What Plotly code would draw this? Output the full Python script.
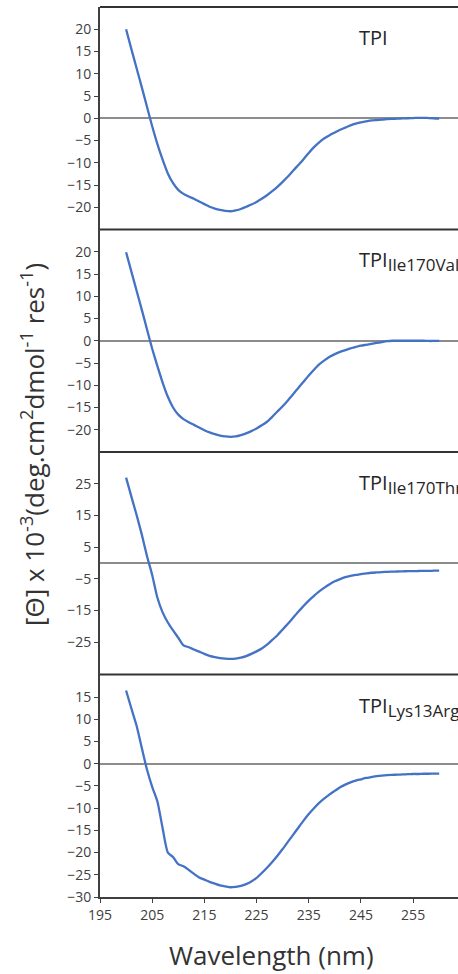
import plotly.graph_objects as go

wavelength = list(range(200, 261))

tpi_wt = [20.0, 15.6, 11.3, 7.0, 2.6, -1.8, -5.8, -9.3, -12.4, -14.6,
          -16.1, -17.0, -17.6, -18.1, -18.7, -19.3, -19.9, -20.3, -20.6, -20.8,
          -20.9, -20.7, -20.4, -19.9, -19.4, -18.8, -18.1, -17.3, -16.4, -15.4,
          -14.3, -13.1, -11.8, -10.5, -9.2, -7.8, -6.5, -5.4, -4.5, -3.8,
          -3.2, -2.6, -2.1, -1.6, -1.2, -0.9, -0.7, -0.5, -0.4, -0.3,
          -0.2, -0.15, -0.1, -0.05, 0.0, 0.05, 0.1, 0.1, 0.05, 0.0, -0.1]

tpi_ile170val = [19.9, 15.6, 11.3, 7.0, 2.6, -1.8, -5.7, -9.4, -12.6, -15.0,
                 -16.6, -17.6, -18.3, -18.9, -19.5, -20.1, -20.6, -21.0, -21.3, -21.5,
                 -21.6, -21.5, -21.2, -20.8, -20.3, -19.7, -19.0, -18.2, -17.1, -15.9,
                 -14.7, -13.4, -12.0, -10.6, -9.2, -7.8, -6.5, -5.3, -4.4, -3.6,
                 -3.0, -2.5, -2.1, -1.7, -1.4, -1.1, -0.9, -0.7, -0.5, -0.3,
                 -0.1, 0.0, 0.0, 0.0, 0.0, 0.0, 0.0, 0.0, -0.05, -0.05, -0.05]

tpi_ile170thr = [26.9, 21.0, 15.2, 9.0, 2.2, -3.8, -11.0, -15.6, -18.8, -21.3,
                 -23.6, -26.0, -26.6, -27.3, -28.0, -28.7, -29.3, -29.7, -30.0, -30.2,
                 -30.3, -30.2, -29.9, -29.4, -28.7, -27.9, -27.0, -25.8, -24.3, -22.8,
                 -21.0, -19.2, -17.3, -15.4, -13.6, -11.9, -10.4, -9.0, -7.8, -6.7,
                 -5.8, -5.1, -4.5, -4.1, -3.8, -3.5, -3.3, -3.1, -3.0, -2.9,
                 -2.8, -2.75, -2.7, -2.65, -2.6, -2.6, -2.55, -2.5, -2.5, -2.45, -2.4]

tpi_lys13arg = [16.5, 12.5, 8.6, 3.6, -1.3, -5.2, -8.5, -14.5, -20.0, -21.0,
                -22.6, -23.1, -23.9, -24.8, -25.6, -26.1, -26.6, -27.0, -27.4, -27.6,
                -27.8, -27.7, -27.5, -27.1, -26.5, -25.7, -24.6, -23.4, -22.1, -20.7,
                -19.2, -17.6, -16.0, -14.4, -12.8, -11.3, -10.0, -8.8, -7.8, -6.9,
                -6.1, -5.3, -4.7, -4.2, -3.8, -3.5, -3.2, -3.0, -2.8, -2.65,
                -2.55, -2.5, -2.45, -2.4, -2.35, -2.3, -2.3, -2.25, -2.25, -2.2, -2.2]

series = [tpi_wt, tpi_ile170val, tpi_ile170thr, tpi_lys13arg]
panel_names = ["TPI", "TPI", "TPI", "TPI"]
panel_subs = ["", "Ile170Val", "Ile170Thr", "Lys13Arg"]
y_ranges = [[-25, 25], [-25, 25], [-35.2, 35], [-30, 20.1]]
y_ticks = [[-20, -15, -10, -5, 0, 5, 10, 15, 20],
           [-20, -15, -10, -5, 0, 5, 10, 15, 20],
           [-25, -15, -5, 5, 15, 25],
           [-30, -25, -20, -15, -10, -5, 0, 5, 10, 15]]
x_ticks = [195, 205, 215, 225, 235, 245, 255]

W, H = 458, 974
ML, MR, MT, MB = 100, 0, 7, 77
plot_h = H - MT - MB

fig = go.Figure()
LINE = "#4472C4"
AX = "#404040"
for i, ys in enumerate(series):
    yname = "y" if i == 0 else f"y{i+1}"
    fig.add_trace(go.Scatter(x=wavelength, y=ys, mode="lines", xaxis="x", yaxis=yname,
                             line=dict(color=LINE, width=2.3, shape="spline", smoothing=0.6),
                             showlegend=False, hoverinfo="skip"))

layout = dict(
    width=W, height=H,
    margin=dict(l=ML, r=MR, t=MT, b=MB),
    paper_bgcolor="white", plot_bgcolor="white",
    font=dict(family="Open Sans", color="#333333"),
    showlegend=False,
)
layout["xaxis"] = dict(
    range=[195, 263.6], anchor="y4", domain=[0, 1],
    tickvals=x_ticks, ticks="outside", ticklen=4, tickwidth=1, tickcolor=AX,
    showline=True, linecolor=AX, linewidth=1.5, showgrid=False, zeroline=False,
    tickfont=dict(size=14, color="#404040", family="Open Sans"),
)
for i in range(4):
    key = "yaxis" if i == 0 else f"yaxis{i+1}"
    top = 1 - i * 0.25
    layout[key] = dict(
        domain=[top - 0.25, top], anchor="x", range=y_ranges[i],
        tickvals=y_ticks[i], ticks="outside", ticklen=4, tickwidth=1, tickcolor=AX,
        showline=True, linecolor=AX, linewidth=2, showgrid=False,
        zeroline=True, zerolinecolor="#8c8c8c", zerolinewidth=1.5,
        tickfont=dict(size=14, color="#404040", family="Open Sans"),
    )
fig.update_layout(**layout)

for i in range(4):
    yy = 1 - i * 0.25
    fig.add_shape(type="line", xref="paper", yref="paper", x0=0, x1=1, y0=yy, y1=yy,
                  line=dict(color="#333333", width=2))

for i in range(4):
    lab = panel_names[i]
    if panel_subs[i]:
        lab += "<sub><span style='font-size:17px'>" + panel_subs[i] + "</span></sub>"
    top_px = MT + i * plot_h / 4
    ypaper = 1 - (top_px + 15 - MT) / plot_h
    fig.add_annotation(text=lab, xref="paper", yref="paper",
                       x=(357 - ML) / (W - ML), y=ypaper, xanchor="left", yanchor="top",
                       showarrow=False, font=dict(size=20, color="#262626", family="Open Sans"))

fig.add_annotation(text="[Θ] x 10<sup>-3</sup>(deg.cm<sup>2</sup>dmol<sup>-1</sup> res<sup>-1</sup>)",
                   xref="paper", yref="paper", x=(33 - ML) / (W - ML), y=(H - MB - 445) / plot_h,
                   xanchor="center", yanchor="middle", textangle=-90, showarrow=False,
                   font=dict(size=26, color="#333333", family="Open Sans"))
fig.add_annotation(text="Wavelength (nm)", xref="paper", yref="paper",
                   x=(271 - ML) / (W - ML), y=-(955 - (H - MB)) / plot_h,
                   xanchor="center", yanchor="middle", showarrow=False,
                   font=dict(size=26, color="#333333", family="Open Sans"))

fig.write_html("out.html", config={"displayModeBar": False},
               post_script="document.body.style.margin='0px';document.body.style.overflow='hidden';")
